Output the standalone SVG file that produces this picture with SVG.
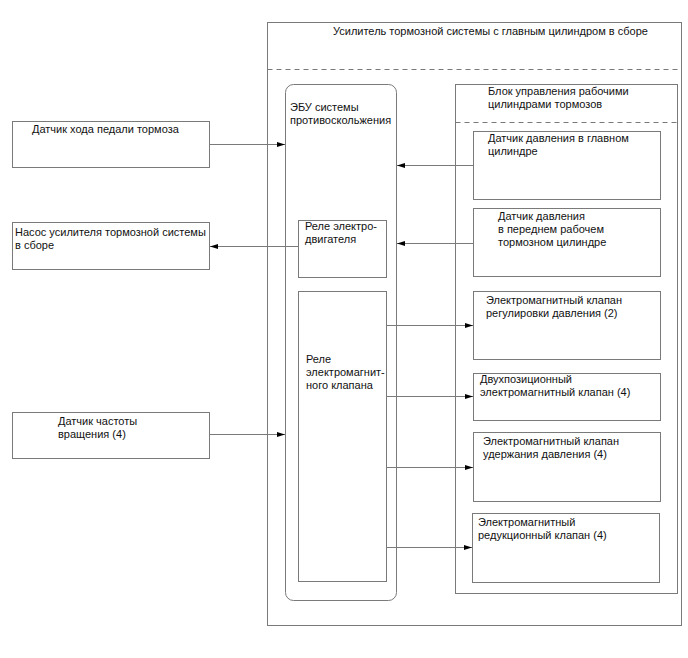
<svg xmlns="http://www.w3.org/2000/svg" width="688" height="658" viewBox="0 0 688 658">
<style>
  .box { fill: #ffffff; stroke: #7a7a7a; stroke-width: 1; }
  .dash { stroke: #7a7a7a; stroke-width: 1; stroke-dasharray: 5 4; fill: none; }
  .t { font-family: "Liberation Sans", Arial, sans-serif; font-size: 11px; fill: #111; }
  .ln { stroke: #7a7a7a; stroke-width: 1; fill: none; marker-end: url(#ah); }
</style>
<defs>
  <marker id="ah" viewBox="0 0 8 5" refX="8" refY="2.5" markerWidth="8" markerHeight="5" markerUnits="userSpaceOnUse" orient="auto">
    <path d="M0,0 L8,2.5 L0,5 Z" fill="#000"/>
  </marker>
</defs>
<rect width="688" height="658" fill="#ffffff"/>

<g id="booster">
  <rect class="box" x="267.5" y="22.5" width="414" height="603"/>
  <text class="t" x="333" y="35">Усилитель тормозной системы с главным цилиндром в сборе</text>
  <line class="dash" x1="267.5" y1="69.5" x2="681.5" y2="69.5"/>
</g>

<g id="ecu">
  <rect class="box" x="285.5" y="84.5" width="111" height="516" rx="8" ry="8"/>
  <text class="t" x="290" y="111">ЭБУ системы</text>
  <text class="t" x="290" y="124">противоскольжения</text>
</g>

<g id="control-block">
  <rect class="box" x="455.5" y="84.5" width="222" height="509"/>
  <text class="t" x="488" y="95">Блок управления рабочими</text>
  <text class="t" x="488" y="108">цилиндрами тормозов</text>
  <line class="dash" x1="455.5" y1="122.5" x2="677.5" y2="122.5"/>
</g>

<g id="pedal-sensor">
  <rect class="box" x="12.5" y="121.5" width="197" height="46"/>
  <text class="t" x="32" y="133">Датчик хода педали тормоза</text>
</g>

<g id="pump">
  <rect class="box" x="12.5" y="222.5" width="197" height="47"/>
  <text class="t" x="15" y="236">Насос усилителя тормозной системы</text>
  <text class="t" x="15" y="249">в сборе</text>
</g>

<g id="speed-sensor">
  <rect class="box" x="12.5" y="412.5" width="197" height="46"/>
  <text class="t" x="58" y="425">Датчик частоты</text>
  <text class="t" x="58" y="438">вращения (4)</text>
</g>

<g id="motor-relay">
  <rect class="box" x="298.5" y="220.5" width="88" height="57"/>
  <text class="t" x="305" y="230">Реле электро-</text>
  <text class="t" x="305" y="243">двигателя</text>
</g>

<g id="solenoid-relay">
  <rect class="box" x="298.5" y="291.5" width="88" height="290"/>
  <text class="t" x="306" y="363">Реле</text>
  <text class="t" x="306" y="376">электромагнит-</text>
  <text class="t" x="306" y="389">ного клапана</text>
</g>

<g id="master-pressure-sensor">
  <rect class="box" x="473.5" y="131.5" width="187" height="68"/>
  <text class="t" x="488" y="142">Датчик давления в главном</text>
  <text class="t" x="488" y="155">цилиндре</text>
</g>

<g id="front-pressure-sensor">
  <rect class="box" x="473.5" y="208.5" width="187" height="68"/>
  <text class="t" x="498" y="220">Датчик давления</text>
  <text class="t" x="498" y="233">в переднем рабочем</text>
  <text class="t" x="498" y="246">тормозном цилиндре</text>
</g>

<g id="pressure-regulating-valve">
  <rect class="box" x="473.5" y="291.5" width="187" height="68"/>
  <text class="t" x="486" y="304">Электромагнитный клапан</text>
  <text class="t" x="486" y="317">регулировки давления (2)</text>
</g>

<g id="two-position-valve">
  <rect class="box" x="473.5" y="373.5" width="187" height="47"/>
  <text class="t" x="480" y="383">Двухпозиционный</text>
  <text class="t" x="480" y="396">электромагнитный клапан (4)</text>
</g>

<g id="pressure-holding-valve">
  <rect class="box" x="473.5" y="432.5" width="187" height="69"/>
  <text class="t" x="483" y="445">Электромагнитный клапан</text>
  <text class="t" x="483" y="458">удержания давления (4)</text>
</g>

<g id="reduction-valve">
  <rect class="box" x="472.5" y="513.5" width="187" height="69"/>
  <text class="t" x="478" y="526">Электромагнитный</text>
  <text class="t" x="478" y="539">редукционный клапан (4)</text>
</g>

<g id="connectors">
  <line class="ln" x1="209.5" y1="144.5" x2="285" y2="144.5"/>
  <line class="ln" x1="209.5" y1="434.5" x2="285" y2="434.5"/>
  <line class="ln" x1="298.5" y1="246.5" x2="210" y2="246.5"/>
  <line class="ln" x1="473.5" y1="165.5" x2="397" y2="165.5"/>
  <line class="ln" x1="473.5" y1="243.5" x2="397" y2="243.5"/>
  <line class="ln" x1="386.5" y1="325.5" x2="473" y2="325.5"/>
  <line class="ln" x1="386.5" y1="396.5" x2="473" y2="396.5"/>
  <line class="ln" x1="386.5" y1="467.5" x2="473" y2="467.5"/>
  <line class="ln" x1="386.5" y1="547.5" x2="472" y2="547.5"/>
</g>
</svg>
